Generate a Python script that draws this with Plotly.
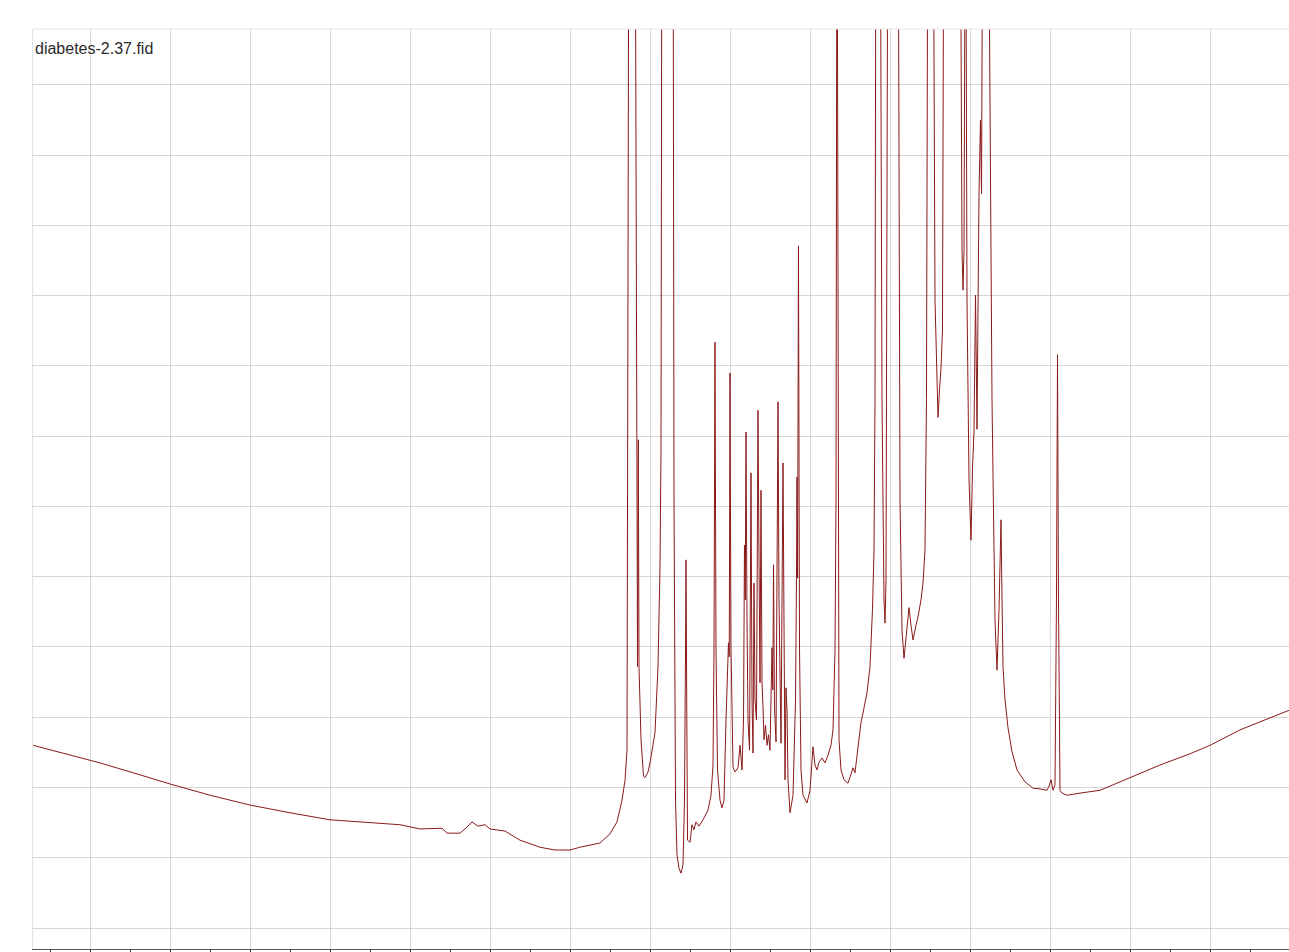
import plotly.graph_objects as go

# 1H NMR spectrum trace (chemical shift in ppm, intensity in arbitrary units).
# Peaks that run off the top of the display are given an intensity of 16.
ppm = [
    12.71, 12.375, 11.875, 11.375, 11.0, 10.5, 10.0, 9.5, 9.0, 8.625, 8.375, 8.125,
    7.875, 7.6, 7.5375, 7.375, 7.3125, 7.225, 7.15, 7.0625, 7.0, 6.8125, 6.625,
    6.375, 6.1875, 6.0, 5.875, 5.625, 5.5, 5.4125, 5.35, 5.3125, 5.2875,
    5.2625, 5.1875, 5.156, 5.146, 5.1375, 5.1125, 5.081, 5.0625, 5.025, 5.0,
    4.9375, 4.9, 4.875, 4.8625, 4.85, 4.7125, 4.7, 4.681, 4.6625, 4.6375, 4.6125,
    4.5875, 4.569, 4.556, 4.55, 4.541, 4.531, 4.5, 4.475, 4.45, 4.425, 4.3875,
    4.3375, 4.275, 4.2375, 4.2125, 4.2, 4.1875, 4.175, 4.156, 4.125, 4.1, 4.075,
    4.05, 4.031, 4.019, 4.009, 4.0, 3.9875, 3.9625, 3.9375, 3.9, 3.875, 3.85,
    3.831, 3.819, 3.809, 3.8, 3.7875, 3.775, 3.756, 3.7375, 3.725, 3.7125, 3.7,
    3.6875, 3.669, 3.65, 3.6375, 3.625, 3.6125, 3.6, 3.5875, 3.575, 3.556,
    3.5375, 3.519, 3.5, 3.475, 3.465, 3.456, 3.444, 3.425, 3.4, 3.3875, 3.375,
    3.3625, 3.3375, 3.325, 3.3125, 3.3, 3.2875, 3.275, 3.25, 3.2125, 3.181,
    3.169, 3.1625, 3.155, 3.144, 3.131, 3.1125, 3.0875, 3.0375, 3.0, 2.9625,
    2.9375, 2.9125, 2.8875, 2.85, 2.8125, 2.775, 2.7375, 2.7125, 2.6875, 2.675,
    2.6625, 2.65, 2.6375, 2.6125, 2.575, 2.525, 2.4875, 2.4625, 2.4375, 2.4,
    2.3625, 2.3375, 2.2875, 2.25, 2.219, 2.2, 2.1875, 2.175, 2.125, 2.1, 2.075,
    2.0625, 2.05, 2.025, 1.9, 1.875, 1.85, 1.825, 1.7875, 1.7625, 1.7375,
    1.7125, 1.675, 1.65, 1.6125, 1.5875, 1.5625, 1.544, 1.525, 1.4625, 1.4375,
    1.4125, 1.4, 1.381, 1.3625, 1.344, 1.325, 1.125, 1.1, 1.0875, 1.075, 1.056,
    1.0375, 1.0125, 0.9875, 0.969, 0.95, 0.931, 0.9125, 0.8875, 0.869, 0.856,
    0.8375, 0.775, 0.725, 0.6875, 0.6625, 0.6375, 0.6125, 0.6, 0.5875, 0.5625,
    0.525, 0.475, 0.4125, 0.3125, 0.2125, 0.125, 0.0375, 0.0125, -0.0125, -0.0375,
    -0.0625, -0.081, -0.094, -0.106, -0.125, -0.15, -0.2125, -0.375, -0.625,
    -1.0, -1.375, -1.75, -2.0, -2.375, -2.625, -2.99,
]

intensity = [
    2.60, 2.50, 2.35, 2.18, 2.05, 1.89, 1.75, 1.64, 1.54, 1.51, 1.49, 1.47,
    1.41, 1.42, 1.35, 1.35, 1.41, 1.51, 1.45, 1.47, 1.41, 1.38, 1.25,
    1.15, 1.11, 1.11, 1.15, 1.21, 1.34, 1.51, 1.82, 2.10, 2.53,
    16, 16, 3.72, 6.95, 3.72, 2.68, 2.16, 2.14, 2.22, 2.35,
    2.78, 3.72, 5.14, 6.80, 16, 16, 6.09, 1.82, 1.04, 0.85, 0.78,
    0.90, 1.82, 3.96, 5.24, 3.25, 1.25, 1.22, 1.47, 1.40, 1.51, 1.45,
    1.54, 1.68, 1.89, 2.31, 3.96, 8.34, 3.96, 2.25, 1.82, 1.71, 1.82,
    2.96, 3.81, 4.06, 3.86, 7.90, 3.96, 2.29, 2.22, 2.28, 2.60, 2.25,
    2.96, 5.45, 4.67, 7.06, 4.38, 2.96, 2.53, 6.48, 3.25, 2.49, 4.91,
    3.25, 2.96, 7.37, 5.24, 3.49, 6.23, 3.49, 3.15, 2.68, 2.89,
    2.60, 2.75, 2.53, 3.99, 3.39, 5.17, 3.15, 2.65, 7.49, 4.67, 3.72,
    2.63, 6.62, 3.25, 2.11, 3.42, 3.10, 2.11, 1.64, 1.89, 3.25,
    4.98, 6.42, 4.98, 9.71, 3.96, 2.25, 1.89, 1.78, 1.96, 2.58,
    2.32, 2.25, 2.36, 2.42, 2.35, 2.46, 2.60, 2.82, 3.96, 6.09,
    16, 6.09, 2.68, 2.25, 2.11, 2.06, 2.18, 2.28, 2.21, 2.60,
    2.93, 3.06, 3.35, 3.72, 4.53, 5.38, 7.52, 16, 16, 7.52, 4.67,
    4.34, 4.95, 16, 16, 6.09, 4.24, 3.84, 4.24, 4.56, 4.31,
    4.10, 4.31, 4.43, 4.67, 4.91, 5.38, 7.52, 16, 16, 8.94,
    7.52, 7.27, 7.66, 7.97, 8.51, 16, 16, 9.65, 9.08, 9.65, 16,
    8.94, 6.38, 5.52, 6.52, 7.09, 9.01, 7.10, 10.45, 11.50, 10.45,
    16, 16, 7.52, 4.38, 3.67, 4.53, 5.81, 4.67, 3.72, 3.25,
    2.85, 2.51, 2.25, 2.08, 1.99, 1.98, 1.96, 2.02, 2.11, 1.96,
    2.04, 4.67, 8.16, 4.67, 1.96, 1.92, 1.89, 1.92, 1.96,
    2.14, 2.32, 2.48, 2.60, 2.82, 2.93, 3.10,
]

title_text = "diabetes-2.37.fid"

x_range = [12.7125, -2.9875]
y_range = [-0.299, 12.797]

grid_color = "#d6d6d6"
line_color = "#8b1a1a"

fig = go.Figure()
fig.add_trace(
    go.Scatter(
        x=ppm,
        y=intensity,
        mode="lines",
        line=dict(color=line_color, width=1),
        hoverinfo="x+y",
        showlegend=False,
    )
)

fig.update_layout(
    width=1289,
    height=952,
    margin=dict(l=33, r=0, t=29, b=3),
    paper_bgcolor="white",
    plot_bgcolor="white",
    showlegend=False,
    xaxis=dict(
        range=x_range,
        tick0=0,
        dtick=1,
        showgrid=True,
        gridcolor=grid_color,
        gridwidth=1,
        zeroline=False,
        showline=True,
        linecolor="#555555",
        linewidth=1,
        ticks="outside",
        ticklen=4,
        tickcolor="#333333",
        showticklabels=False,
        minor=dict(dtick=0.5, tick0=0, ticks="outside", ticklen=4,
                   tickcolor="#333333", showgrid=False),
    ),
    yaxis=dict(
        range=y_range,
        tick0=0,
        dtick=1,
        showgrid=True,
        gridcolor=grid_color,
        gridwidth=1,
        zeroline=False,
        showline=True,
        mirror=True,
        linecolor="#e2e2e2",
        linewidth=1,
        ticks="",
        showticklabels=False,
    ),
    shapes=[
        dict(type="line", xref="paper", yref="paper", x0=0, x1=1, y0=1, y1=1,
             line=dict(color="#e6e6e6", width=1)),
    ],
    annotations=[
        dict(
            text=title_text,
            xref="paper", yref="paper",
            x=0, y=1,
            xanchor="left", yanchor="middle",
            xshift=0, yshift=-19,
            showarrow=False,
            font=dict(family="Liberation Sans, Arial, sans-serif",
                      size=16, color="#2a2a2a"),
        )
    ],
)

fig.write_html("out.html")
